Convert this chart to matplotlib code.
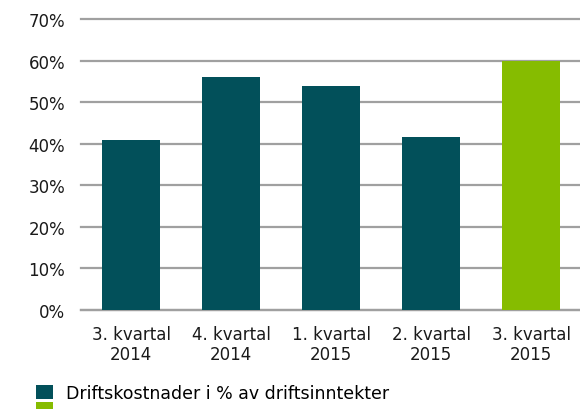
import matplotlib
matplotlib.use("Agg")
import matplotlib.pyplot as plt
from matplotlib.patches import Patch

categories = ["3. kvartal\n2014", "4. kvartal\n2014", "1. kvartal\n2015", "2. kvartal\n2015", "3. kvartal\n2015"]
values = [41, 56, 54, 41.7, 60]
colors = ["#02505A", "#02505A", "#02505A", "#02505A", "#86BC00"]
yticks = [0, 10, 20, 30, 40, 50, 60, 70]
legend_label = "Driftskostnader i % av driftsinntekter"

plt.rcParams['font.family'] = ['DejaVu Sans']
fig = plt.figure(figsize=(5.8, 4.1), dpi=100)
ax = fig.add_axes([81/580, 1-311/410, 500/580, 291/410])

x = list(range(len(categories)))
ax.bar(x, values, width=0.58, color=colors, zorder=3)
ax.set_xlim(-0.5, len(categories) - 0.5)
ax.set_ylim(0, 70)
ax.set_yticks(yticks)
ax.set_yticklabels([f"{t}%" for t in yticks], fontsize=12, color="#1a1a1a")
ax.set_xticks(x)
ax.set_xticklabels(categories, fontsize=12, color="#1a1a1a", linespacing=1.15)
ax.tick_params(axis='both', length=0)
ax.tick_params(axis='y', pad=11.5)
ax.tick_params(axis='x', pad=10.5)
ax.grid(axis='y', color="#A0A0A0", linewidth=1.6, zorder=0)
for gl in ax.get_ygridlines():
    gl.set_clip_on(False)
for s in ["left", "right", "top"]:
    ax.spines[s].set_visible(False)
ax.spines["bottom"].set_color("#A0A0A0")
ax.spines["bottom"].set_linewidth(1.6)

handles = [Patch(facecolor="#02505A"), Patch(facecolor="#86BC00")]
fig.legend(handles, [legend_label, ""], loc="upper left",
           bbox_to_anchor=(36/580, 1-385/410), frameon=False, fontsize=12.5,
           borderpad=0, borderaxespad=0,
           handlelength=0.98, handleheight=0.8, handletextpad=0.75, labelspacing=-0.05)

fig.savefig("out.png", dpi=100)
